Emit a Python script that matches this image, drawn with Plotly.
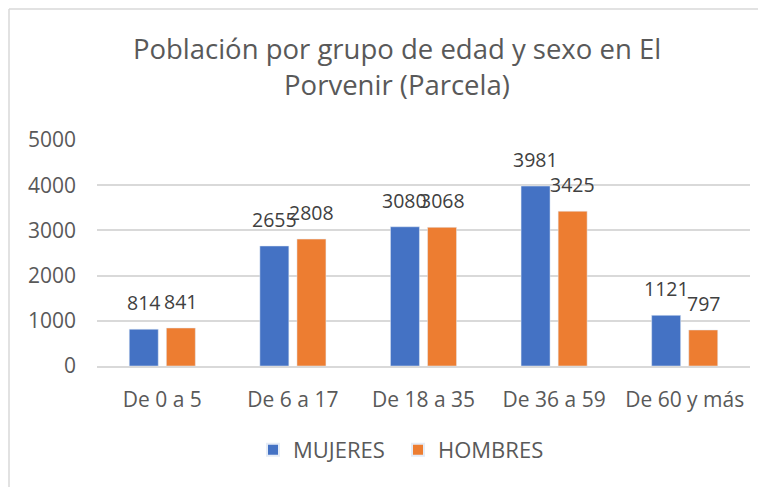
import plotly.graph_objects as go

categories = ["De 0 a 5", "De 6 a 17", "De 18 a 35", "De 36 a 59", "De 60 y más"]
mujeres = [814, 2655, 3080, 3981, 1121]
hombres = [841, 2808, 3068, 3425, 797]
series_names = ["MUJERES", "HOMBRES"]
colors = ["#4472C4", "#ED7D31"]
y_ticks = [0, 1000, 2000, 3000, 4000, 5000]

FONT = "Open Sans"
GRAY = "#595959"
BAR_W = 0.222
OFFSETS = [-0.253, 0.031]

fig = go.Figure()
annotations = []
for name, vals, col, off in zip(series_names, [mujeres, hombres], colors, OFFSETS):
    fig.add_trace(go.Bar(
        x=categories, y=vals, name=name, marker_color=col,
        width=BAR_W, offset=off,
    ))
    for i, v in enumerate(vals):
        annotations.append(dict(
            x=i + off + BAR_W / 2, y=v, xref="x", yref="y", text=str(v),
            showarrow=False, yanchor="bottom", xanchor="center", yshift=11,
            font=dict(family=FONT, size=19.5, color="#404040"),
        ))

# The page body has an 8px margin; figure is sized to fit the window
W, H = 758, 479
ml, mr, mt, mb = 89, 16, 132, 121
pw, ph = W - ml - mr, H - mt - mb

def px_x(px):
    return (px - ml) / pw

def px_y(py):
    return (H - mb - py) / ph

fig.update_layout(
    width=W, height=H,
    margin=dict(l=ml, r=mr, t=mt, b=mb, pad=0, autoexpand=False),
    paper_bgcolor="white", plot_bgcolor="white",
    title=dict(text="Población por grupo de edad y sexo en El<br>Porvenir (Parcela)",
               x=389 / W, xanchor="center", y=1 - 51 / H, yanchor="middle",
               font=dict(family=FONT, size=27.5, color=GRAY)),
    barmode="group",
    font=dict(family=FONT, color=GRAY),
    xaxis=dict(showgrid=False, showline=True, linecolor="#d9d9d9", linewidth=1.5,
               ticks="", ticklabelstandoff=14,
               tickfont=dict(family=FONT, size=21, color=GRAY)),
    yaxis=dict(range=[0, 5000], tickvals=y_ticks, showgrid=True, gridcolor="#d9d9d9",
               gridwidth=1.5, zeroline=False, showline=False, ticks="",
               ticklabelstandoff=20,
               tickfont=dict(family=FONT, size=21, color=GRAY)),
    legend=dict(orientation="h", x=px_x(390), xanchor="center", y=px_y(442), yanchor="middle",
                font=dict(family=FONT, size=22, color=GRAY), itemsizing="constant",
                entrywidth=100, entrywidthmode="pixels",
                traceorder="normal"),
    annotations=annotations,
    shapes=[
        dict(type="line", xref="paper", yref="paper", x0=px_x(1), x1=px_x(780),
             y0=px_y(1), y1=px_y(1), line=dict(color="#d9d9d9", width=1.5)),
        dict(type="line", xref="paper", yref="paper", x0=px_x(1), x1=px_x(1),
             y0=px_y(1), y1=px_y(520), line=dict(color="#d9d9d9", width=1.5)),
    ],
)

fig.write_html("out.html")
